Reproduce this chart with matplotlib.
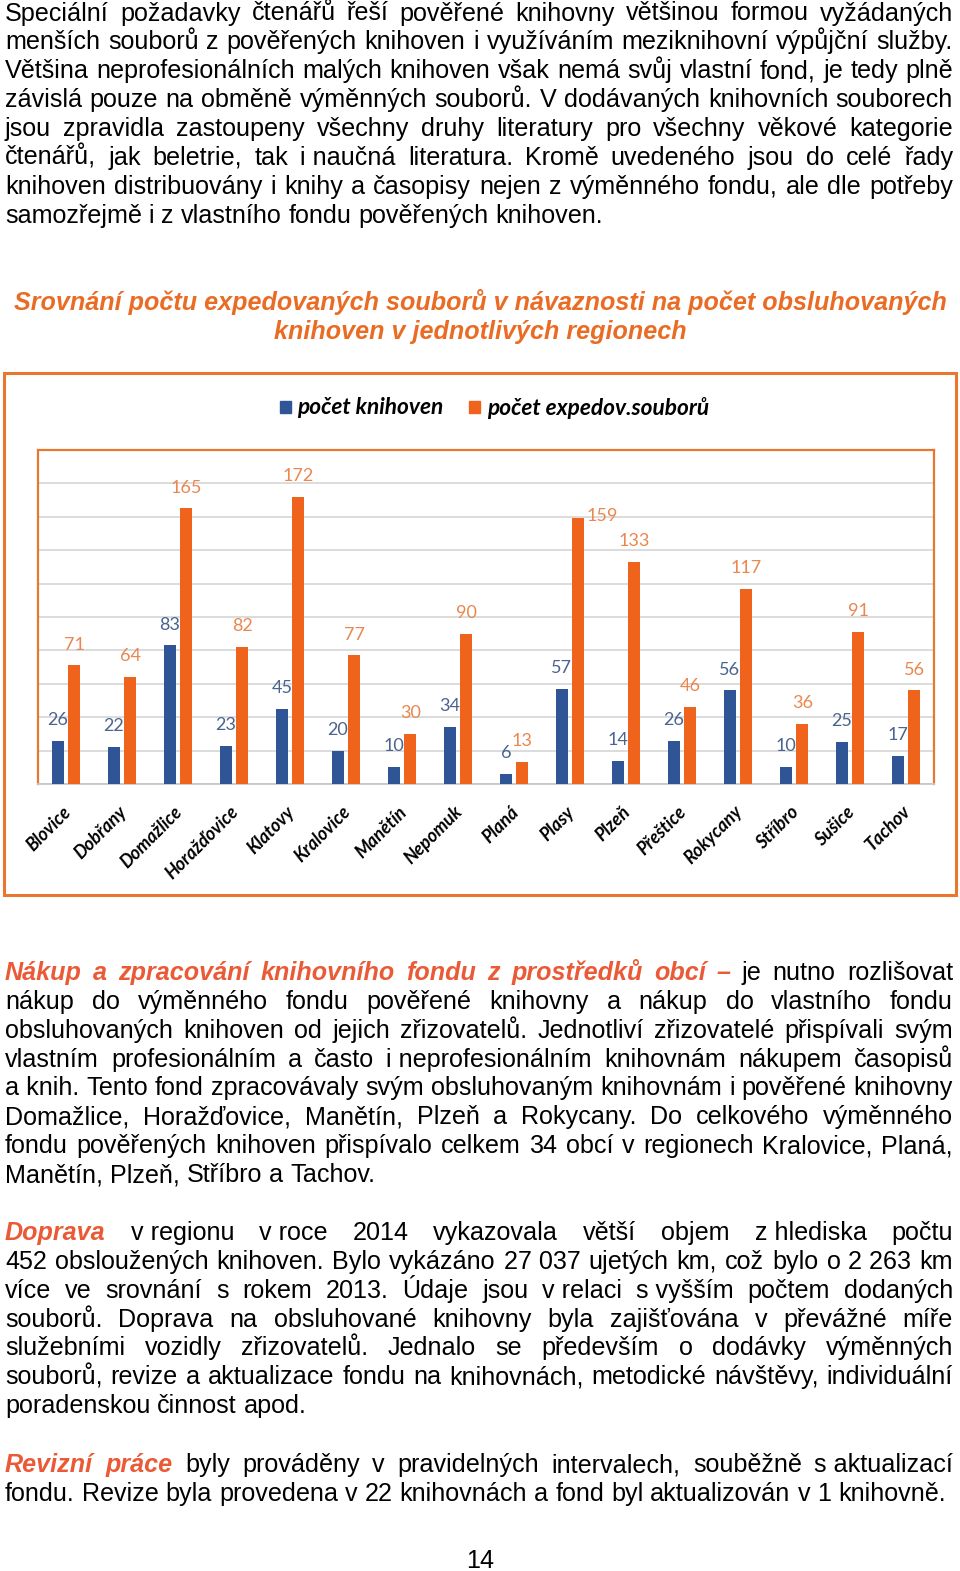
import matplotlib
matplotlib.use("Agg")
import matplotlib.pyplot as plt
from matplotlib.patches import Rectangle
from matplotlib.font_manager import FontProperties
import numpy as np

# ---------------- data ----------------
regions = ["Blovice", "Dobřany", "Domažlice", "Horažďovice", "Klatovy", "Kralovice",
           "Manětín", "Nepomuk", "Planá", "Plasy", "Plzeň", "Přeštice", "Rokycany",
           "Stříbro", "Sušice", "Tachov"]
pocet_knihoven = [26, 22, 83, 23, 45, 20, 10, 34, 6, 57, 14, 26, 56, 10, 25, 17]
pocet_souboru = [71, 64, 165, 82, 172, 77, 30, 90, 13, 159, 133, 46, 117, 36, 91, 56]
series_names = ["počet knihoven", "počet expedov.souborů"]
grid_values = list(range(0, 201, 20))

chart_title = ["Srovnání počtu expedovaných souborů v návaznosti na počet obsluhovaných",
               "knihoven v jednotlivých regionech"]

NB = "\u00a0"
para1 = [
    "Speciální požadavky čtenářů řeší pověřené knihovny většinou formou vyžádaných",
    "menších souborů z pověřených knihoven i využíváním meziknihovní výpůjční služby.",
    "Většina neprofesionálních malých knihoven však nemá svůj vlastní fond, je tedy plně",
    "závislá pouze na obměně výměnných souborů. V dodávaných knihovních souborech",
    "jsou zpravidla zastoupeny všechny druhy literatury pro všechny věkové kategorie",
    f"čtenářů, jak beletrie, tak i{NB}naučná literatura. Kromě uvedeného jsou do celé řady",
    "knihoven distribuovány i knihy a časopisy nejen z výměnného fondu, ale dle potřeby",
    "samozřejmě i z vlastního fondu pověřených knihoven.",
]
para2_head = "Nákup a zpracování knihovního fondu z prostředků obcí –"
para2 = [
    "je nutno rozlišovat",
    "nákup do výměnného fondu pověřené knihovny a nákup do vlastního fondu",
    "obsluhovaných knihoven od jejich zřizovatelů. Jednotliví zřizovatelé přispívali svým",
    f"vlastním profesionálním a často i{NB}neprofesionálním knihovnám nákupem časopisů",
    f"a{NB}knih. Tento fond zpracovávaly svým obsluhovaným knihovnám i pověřené knihovny",
    "Domažlice, Horažďovice, Manětín, Plzeň a Rokycany. Do celkového výměnného",
    "fondu pověřených knihoven přispívalo celkem 34 obcí v regionech Kralovice, Planá,",
    "Manětín, Plzeň, Stříbro a Tachov.",
]
para3_head = "Doprava"
para3 = [
    f"v{NB}regionu v{NB}roce 2014 vykazovala větší objem z{NB}hlediska počtu",
    f"452 obsloužených knihoven. Bylo vykázáno 27{NB}037 ujetých km, což bylo o 2{NB}263 km",
    f"více ve srovnání s rokem 2013. Údaje jsou v{NB}relaci s{NB}vyšším počtem dodaných",
    "souborů. Doprava na obsluhované knihovny byla zajišťována v převážné míře",
    "služebními vozidly zřizovatelů. Jednalo se především o dodávky výměnných",
    "souborů, revize a aktualizace fondu na knihovnách, metodické návštěvy, individuální",
    "poradenskou činnost apod.",
]
para4_head = "Revizní práce"
para4 = [
    f"byly prováděny v pravidelných intervalech, souběžně s{NB}aktualizací",
    "fondu. Revize byla provedena v 22 knihovnách a fond byl aktualizován v 1 knihovně.",
]
page_number = "14"

# ---------------- style ----------------
W, H = 960, 1571
BLUE = "#2F5597"
ORANGE = "#F0631C"
BORDER = "#E9772F"
BLUE_LBL = "#4A6390"
ORANGE_LBL = "#E9874F"
TITLE_C = "#EA6C24"
HEAD_C = "#EA5A36"
GRID_C = "#D9D9D9"

fig = plt.figure(figsize=(W / 100, H / 100), dpi=100)
fig.patch.set_facecolor("white")


def fx(px):
    return px / W


def fy(py):
    return 1 - py / H


renderer = fig.canvas.get_renderer()


def measure(s, fp):
    t = fig.text(0, 0, s, fontproperties=fp)
    w = t.get_window_extent(renderer).width
    t.remove()
    return w


def fonts(size):
    n = FontProperties(family="Liberation Sans", size=size)
    h = FontProperties(family="Liberation Sans", size=size, weight="bold", style="italic")
    return {"n": n, "h": h}


def tokens_of(line, style):
    return [(w, style) for w in line.split(" ") if w]


def build_lines(head, lines):
    out = []
    for i, ln in enumerate(lines):
        toks = []
        if i == 0 and head:
            toks += tokens_of(head, "h")
        toks += tokens_of(ln, "n")
        out.append(toks)
    return out


paragraphs = [
    (build_lines(None, para1), 20.5),
    (build_lines(para2_head, para2), 980.0),
    (build_lines(para3_head, para3), 1240.0),
    (build_lines(para4_head, para4), 1472.0),
]
LINE_STEP = 28.86
X0, X1 = 5, 953

# body font size so that the widest natural line fills the column
base = 18.0
fp = fonts(base)
sp = measure("a a", fp["n"]) - measure("aa", fp["n"])
max_nat = 0
for lines, _ in paragraphs:
    for toks in lines:
        wsum = sum(measure(t, fp[s]) for t, s in toks)
        max_nat = max(max_nat, wsum + sp * (len(toks) - 1))
fs = base * (X1 - X0) / max_nat
fp = fonts(fs)
sp = measure("a a", fp["n"]) - measure("aa", fp["n"])

for lines, b0 in paragraphs:
    for li, toks in enumerate(lines):
        widths = [measure(t, fp[s]) for t, s in toks]
        last = li == len(lines) - 1
        if last or len(toks) < 2:
            gap = sp
        else:
            gap = ((X1 - X0) - sum(widths)) / (len(toks) - 1)
        x = X0
        yb = b0 + li * LINE_STEP
        for (t, s), w in zip(toks, widths):
            fig.text(fx(x), fy(yb), t, fontproperties=fp[s], va="baseline", ha="left",
                     color=HEAD_C if s == "h" else "black")
            x += w + gap

fig.text(fx(480), fy(1568), page_number, fontproperties=fp["n"], ha="center", va="baseline",
         color="black")

# ---------------- chart title ----------------
tfp = FontProperties(family="Liberation Sans", size=16, weight="bold", style="italic")
tw = measure(chart_title[0], tfp)
tfp = FontProperties(family="Liberation Sans", size=16 * 931 / tw, weight="bold", style="italic")
for i, line in enumerate(chart_title):
    fig.text(fx(480), fy(310 + i * 29), line, fontproperties=tfp, ha="center", va="baseline",
             color=TITLE_C)

# ---------------- chart ----------------
fig.add_artist(Rectangle((fx(4), fy(895)), (956 - 4) / W, (895 - 373) / H,
                         transform=fig.transFigure, fill=False, edgecolor=BORDER, lw=2.2))

ax = fig.add_axes([fx(38), fy(784), (934 - 38) / W, (784 - 450) / H])
x = np.arange(len(regions))
off, bw = 0.147, 0.21
ax.bar(x - off, pocet_knihoven, width=bw, color=BLUE, zorder=3)
ax.bar(x + off, pocet_souboru, width=bw, color=ORANGE, zorder=3)
ax.set_xlim(-0.5, len(regions) - 0.5)
ax.set_ylim(0, 200)
ax.set_yticks(grid_values)
ax.yaxis.grid(True, color=GRID_C, lw=1.3)
ax.set_axisbelow(True)
ax.tick_params(left=False, labelleft=False, bottom=False, labelbottom=False)
for s in ["left", "top", "right"]:
    ax.spines[s].set_color(BORDER)
    ax.spines[s].set_linewidth(1.6)
ax.spines["bottom"].set_color("#C8C8C8")
ax.spines["bottom"].set_linewidth(1.3)

lbl_font = dict(family="Lato", size=13)
for i, (a, b) in enumerate(zip(pocet_knihoven, pocet_souboru)):
    ax.annotate(str(a), (i - off, a), xytext=(0, 15), textcoords="offset points",
                ha="center", va="center", color=BLUE_LBL, **lbl_font)
    dxy = (17, 2) if regions[i] == "Plasy" else (0, 15)
    ax.annotate(str(b), (i + off, b), xytext=dxy, textcoords="offset points",
                ha="center", va="center", color=ORANGE_LBL, **lbl_font)

for i, r in enumerate(regions):
    ax.text(i + 0.03, -15, r, rotation=45, rotation_mode="anchor", ha="right", va="center",
            family="Lato", size=13, weight="bold", style="italic", color="black",
            clip_on=False)

# legend
lgfp = FontProperties(family="Lato", size=16.3, weight="bold", style="italic")
for (sx, tx), name, col in zip([(280, 297), (469, 487)], series_names, [BLUE, ORANGE]):
    fig.add_artist(Rectangle((fx(sx), fy(413)), 11 / W, 12 / H, transform=fig.transFigure,
                             color=col))
    fig.text(fx(tx), fy(408), name, fontproperties=lgfp, ha="left", va="center", color="black")

fig.savefig("out.png", dpi=100, facecolor="white")
